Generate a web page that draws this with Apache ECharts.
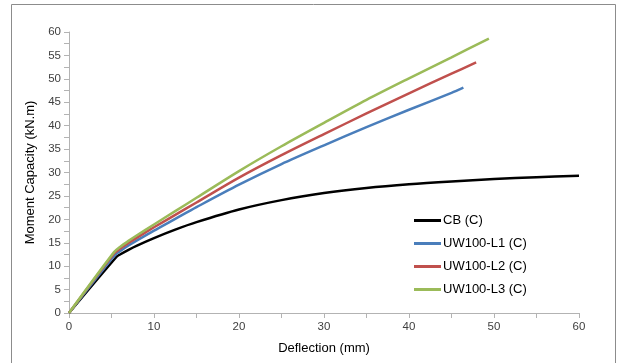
<!DOCTYPE html>
<html>
<head>
<meta charset="utf-8">
<script src="https://cdn.jsdelivr.net/npm/echarts@6/dist/echarts.min.js"></script>
<style>
  html, body { margin: 0; padding: 0; background: #fff; }
  #chart { width: 621px; height: 363px; }
</style>
</head>
<body>
<div id="chart"></div>
<script>
// deflection (mm) vs moment capacity (kN.m)
const seriesNames = ["CB (C)", "UW100-L1 (C)", "UW100-L2 (C)", "UW100-L3 (C)"];
const colors = ["#000000", "#4a7ebb", "#c0504d", "#9bbb59"];

const cbX = [0, 5.6, 6, 7, 8, 10, 12.5, 15, 20, 25, 30, 35, 40, 45, 50, 55, 60];
const cbY = [0, 12.0, 12.5, 13.5, 14.4, 16.0, 17.8, 19.4, 22.1, 24.1, 25.6, 26.7, 27.5, 28.1, 28.6, 29.0, 29.3];

const l1X = [0, 5.4, 6, 7, 8, 10, 12.5, 15, 20, 25, 30, 35, 40, 45, 46.4];
const l1Y = [0, 12.4, 13.2, 14.4, 15.5, 17.6, 20.1, 22.6, 27.4, 31.8, 35.8, 39.7, 43.4, 47.0, 48.1];

const l2X = [0, 5.3, 6, 7, 8, 10, 12.5, 15, 20, 25, 30, 35, 40, 45, 47.9];
const l2Y = [0, 12.7, 13.7, 14.95, 16.1, 18.3, 20.95, 23.6, 28.9, 33.7, 38.2, 42.6, 46.9, 51.1, 53.5];

const l3X = [0, 5.3, 6, 7, 8, 10, 12.5, 15, 20, 25, 30, 35, 40, 45, 49.4];
const l3Y = [0, 13.0, 14.1, 15.4, 16.6, 18.9, 21.75, 24.6, 30.3, 35.6, 40.6, 45.5, 50.1, 54.6, 58.6];

const xTicks = { min: 0, max: 60, step: 10 };
const yTicks = { min: 0, max: 60, step: 5 };

const pairs = (xs, ys) => xs.map((x, i) => [x, ys[i]]);
const allData = [pairs(cbX, cbY), pairs(l1X, l1Y), pairs(l2X, l2Y), pairs(l3X, l3Y)];

const font = "Liberation Sans";
const chart = echarts.init(document.getElementById("chart"));

chart.setOption({
  animation: false,
  backgroundColor: "#ffffff",
  textStyle: { fontFamily: font },
  graphic: [
    {
      type: "rect",
      shape: { x: 11.5, y: 4.5, width: 604, height: 380 },
      style: { fill: null, stroke: "#8c8c8c", lineWidth: 1 },
      silent: true,
    },
  ],
  grid: { left: 69, right: 42, top: 32, bottom: 50 },
  legend: {
    orient: "vertical",
    left: 409,
    top: 209,
    icon: "rect",
    itemWidth: 27,
    itemHeight: 3,
    itemGap: 10,
    textStyle: { fontSize: 13, color: "#000", fontFamily: font, padding: [0, 0, 0, -3] },
    data: seriesNames,
  },
  xAxis: {
    type: "value",
    min: xTicks.min,
    max: xTicks.max,
    interval: xTicks.step,
    name: "Deflection (mm)",
    nameLocation: "middle",
    nameGap: 29,
    nameTextStyle: { fontSize: 13, color: "#000" },
    axisLine: { lineStyle: { color: "#b3b3b3" } },
    axisTick: { show: true, length: 5, lineStyle: { color: "#b3b3b3" } },
    minorTick: { show: true, splitNumber: 2, length: 5, lineStyle: { color: "#b3b3b3" } },
    axisLabel: { fontSize: 11.5, color: "#404040", margin: 8 },
    splitLine: { show: false },
  },
  yAxis: {
    type: "value",
    min: yTicks.min,
    max: yTicks.max,
    interval: yTicks.step,
    name: "Moment Capacity (kN.m)",
    nameLocation: "middle",
    nameGap: 30,
    nameTextStyle: { fontSize: 13, color: "#000" },
    axisLine: { show: true, lineStyle: { color: "#b3b3b3" } },
    axisTick: { show: true, length: 5, lineStyle: { color: "#b3b3b3" } },
    minorTick: { show: true, splitNumber: 2, length: 5, lineStyle: { color: "#b3b3b3" } },
    axisLabel: { fontSize: 11.5, color: "#404040", margin: 8 },
    splitLine: { show: false },
  },
  series: seriesNames.map((name, i) => ({
    name,
    type: "line",
    data: allData[i],
    smooth: 0.3,
    showSymbol: false,
    color: colors[i],
    lineStyle: { width: 2.5, color: colors[i] },
    z: 2 + i,
  })),
});
</script>
</body>
</html>
